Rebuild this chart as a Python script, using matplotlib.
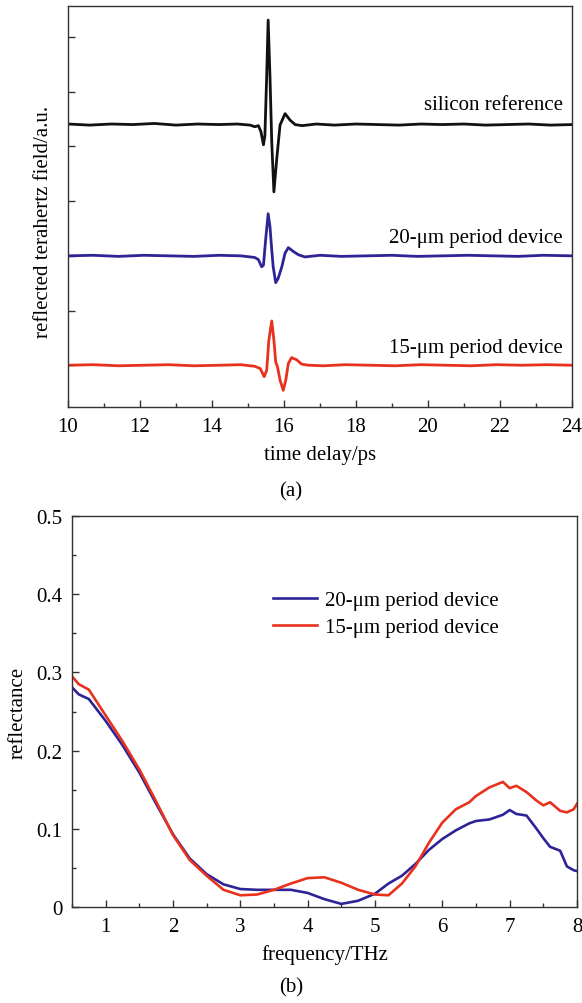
import matplotlib
matplotlib.use("Agg")
import matplotlib.pyplot as plt
from matplotlib.ticker import MultipleLocator

plt.rcParams["font.family"] = ["Liberation Serif", "DejaVu Serif"]
plt.rcParams["font.size"] = 15

# (a) time-domain pulses, values relative to each trace's baseline
t_si = [10.0, 10.6, 11.2, 11.8, 12.4, 13.0, 13.6, 14.2, 14.7, 15.06, 15.19, 15.29, 15.36,
        15.43, 15.47, 15.52, 15.56, 15.61, 15.66, 15.72, 15.80, 15.89, 16.03, 16.17, 16.31,
        16.5, 16.9, 17.4, 18.0, 18.6, 19.2, 19.8, 20.4, 21.0, 21.6, 22.2, 22.8, 23.4, 24.0]
e_si = [0.01, -0.01, 0.01, 0.0, 0.02, -0.01, 0.01, 0.0, 0.01, -0.01, -0.04, -0.02, -0.13,
        -0.37, -0.2, 0.9, 1.91, 0.9, -0.32, -1.23, -0.62, -0.01, 0.2, 0.08, 0.0,
        -0.02, 0.01, -0.01, 0.01, 0.0, -0.01, 0.01, 0.0, 0.01, -0.01, 0.0, 0.01, -0.01, 0.0]

t_20 = [10.0, 10.7, 11.4, 12.1, 12.8, 13.5, 14.2, 14.8, 15.19, 15.29, 15.38, 15.43, 15.49,
        15.56, 15.61, 15.66, 15.70, 15.77, 15.84, 15.94, 16.03, 16.12, 16.26, 16.40, 16.58,
        17.0, 17.6, 18.3, 19.0, 19.7, 20.4, 21.1, 21.8, 22.5, 23.2, 24.0]
e_20 = [0.0, 0.01, -0.01, 0.01, 0.0, -0.01, 0.01, 0.0, -0.03, -0.07, -0.2, -0.17, 0.29,
        0.77, 0.54, 0.11, -0.2, -0.49, -0.41, -0.2, 0.05, 0.15, 0.08, 0.02, -0.02,
        0.01, -0.01, 0.0, 0.01, -0.01, 0.0, 0.01, 0.0, -0.01, 0.01, 0.0]

t_15 = [10.0, 10.7, 11.4, 12.1, 12.8, 13.5, 14.2, 14.8, 15.19, 15.34, 15.45, 15.52, 15.58,
        15.66, 15.72, 15.77, 15.82, 15.89, 15.98, 16.05, 16.12, 16.21, 16.35, 16.49, 16.68,
        17.1, 17.7, 18.4, 19.1, 19.8, 20.5, 21.2, 21.9, 22.6, 23.3, 24.0]
e_15 = [0.0, 0.01, -0.01, 0.0, 0.01, -0.01, 0.0, 0.01, -0.02, -0.06, -0.21, -0.09, 0.46,
        0.81, 0.46, 0.06, -0.03, -0.27, -0.46, -0.27, 0.03, 0.14, 0.1, 0.02, 0.0,
        -0.01, 0.01, 0.0, -0.01, 0.01, 0.0, -0.01, 0.01, 0.0, 0.01, 0.0]

# (b) reflectance spectra
freq = [0.5, 0.6, 0.75, 1.0, 1.25, 1.5, 1.75, 2.0, 2.25, 2.5, 2.75, 3.0, 3.25, 3.5, 3.75,
        4.0, 4.25, 4.5, 4.75, 5.0, 5.2, 5.4, 5.6, 5.8, 6.0, 6.2, 6.4, 6.5, 6.7, 6.9,
        7.0, 7.1, 7.25, 7.4, 7.5, 7.6, 7.75, 7.85, 7.95, 8.0]
refl_20 = [0.281, 0.272, 0.266, 0.238, 0.207, 0.172, 0.132, 0.093, 0.062, 0.042, 0.029, 0.023,
           0.022, 0.022, 0.022, 0.018, 0.010, 0.004, 0.008, 0.017, 0.030, 0.040, 0.055, 0.073,
           0.087, 0.098, 0.107, 0.110, 0.112, 0.118, 0.124, 0.119, 0.117, 0.100, 0.088, 0.077,
           0.072, 0.052, 0.047, 0.046]
refl_15 = [0.295, 0.285, 0.278, 0.245, 0.212, 0.176, 0.135, 0.092, 0.060, 0.040, 0.022, 0.015,
           0.016, 0.022, 0.030, 0.037, 0.038, 0.031, 0.022, 0.016, 0.015, 0.030, 0.052, 0.082,
           0.108, 0.125, 0.134, 0.142, 0.153, 0.160, 0.152, 0.155, 0.147, 0.136, 0.130, 0.134,
           0.123, 0.121, 0.125, 0.132]

refl_ticks = [0, 0.1, 0.2, 0.3, 0.4, 0.5]
refl_ticklabels = ["0", "0.1", "0.2", "0.3", "0.4", "0.5"]

labels = ["silicon reference", "20-\u03bcm period device", "15-\u03bcm period device"]
offsets = [4.4, 2.0, 0.0]
black = "#111111"
blue = "#2e2496"
red = "#e8321e"
spine_col = "#333333"

fig = plt.figure(figsize=(5.82, 10.04), dpi=100)
ax1 = fig.add_axes([0.1168, 0.5936, 0.866, 0.3994])
ax2 = fig.add_axes([0.1237, 0.0956, 0.8677, 0.3894])

for t, e, off, c in zip([t_si, t_20, t_15], [e_si, e_20, e_15], offsets, [black, blue, red]):
    ax1.plot(t, [v + off for v in e], color=c, lw=2.0)

ax1.text(23.75, 4.775, labels[0], ha="right", va="center")
ax1.text(23.75, 2.34, labels[1], ha="right", va="center")
ax1.text(23.75, 0.333, labels[2], ha="right", va="center")

ax1.set_xlim(10, 24)
ax1.set_ylim(-0.764, 6.567)
ax1.xaxis.set_major_locator(MultipleLocator(2))
ax1.xaxis.set_minor_locator(MultipleLocator(1))
ax1.set_yticks(range(0, 7))
ax1.set_yticklabels([])
ax1.set_xlabel("time delay/ps", labelpad=7)
ax1.set_ylabel("reflected terahertz field/a.u.")
ax1.yaxis.set_label_coords(-0.03, 0.464)

ax2.plot(freq, refl_20, color=blue, lw=1.9, label=labels[1])
ax2.plot(freq, refl_15, color=red, lw=1.9, label=labels[2])
ax2.set_xlim(0.5, 8)
ax2.set_ylim(0, 0.5)
ax2.set_xticks(range(1, 9))
ax2.xaxis.set_minor_locator(MultipleLocator(0.5))
ax2.set_yticks(refl_ticks)
ax2.set_yticklabels(refl_ticklabels)
ax2.yaxis.set_minor_locator(MultipleLocator(0.05))
ax2.set_xlabel("frequency/THz", labelpad=6)
ax2.set_ylabel("reflectance", labelpad=6)
ax2.legend(loc="center left", bbox_to_anchor=(0.398, 0.75), frameon=False,
           borderaxespad=0, borderpad=0, handlelength=2.1, handletextpad=0.4,
           labelspacing=0.35)

for ax in (ax1, ax2):
    for s in ax.spines.values():
        s.set_color(spine_col)
        s.set_linewidth(1.0)
    ax.tick_params(which="both", direction="in", color=spine_col, width=1.0)
    ax.tick_params(which="major", length=5, pad=7)
    ax.tick_params(which="minor", length=3)

fig.text(0.5, 1 - 492 / 1004, "(a)", ha="center", va="center")
fig.text(0.5, 1 - 988 / 1004, "(b)", ha="center", va="center")

fig.savefig("out.png", dpi=100)
